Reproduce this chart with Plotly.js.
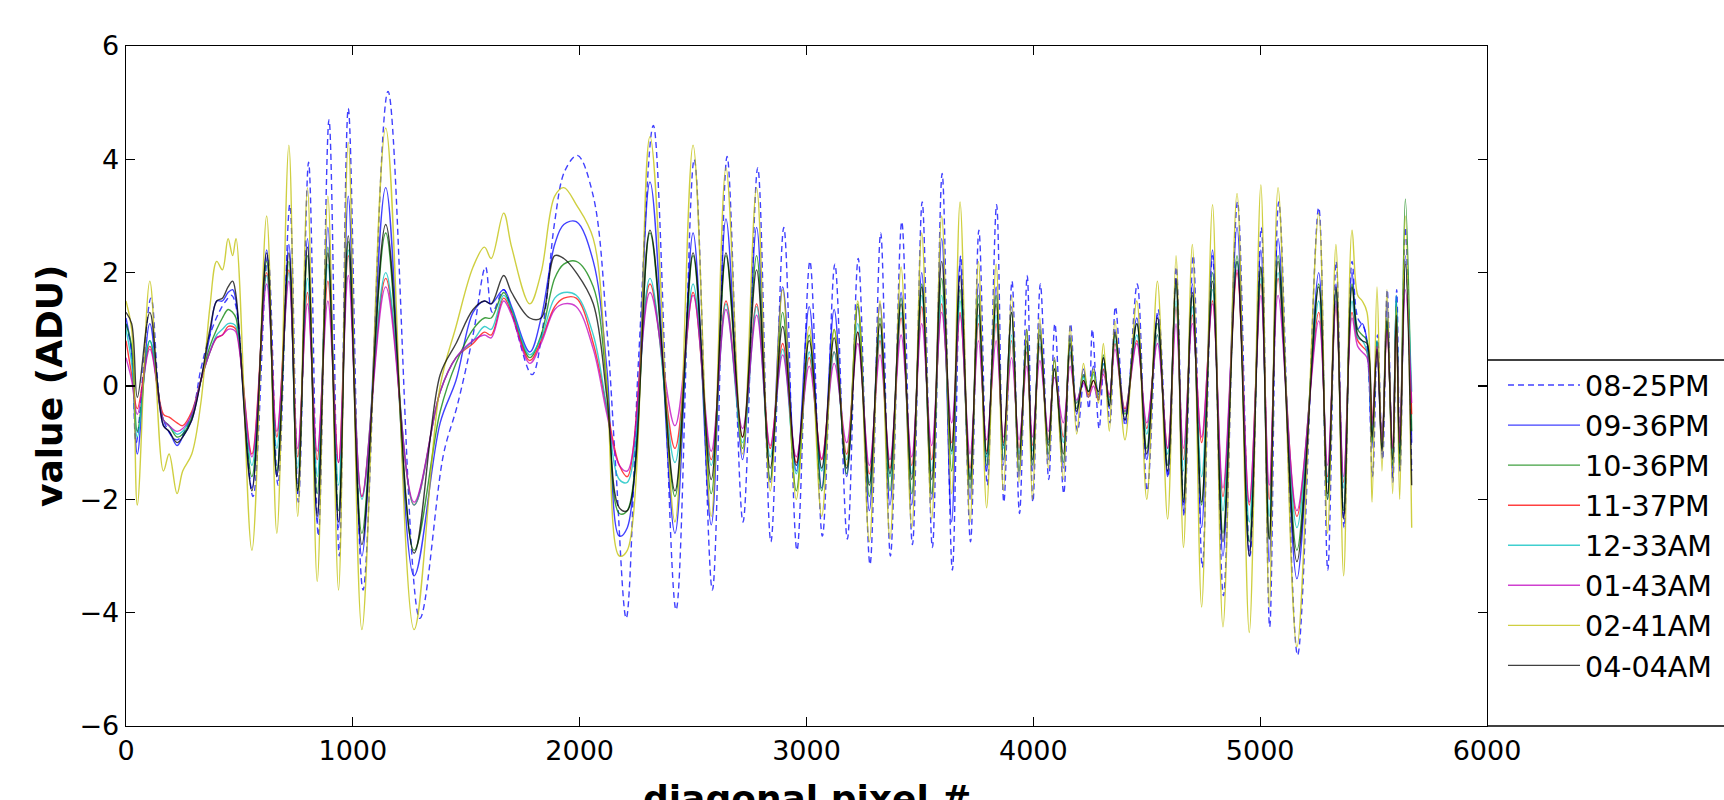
<!DOCTYPE html>
<html>
<head>
<meta charset="utf-8">
<script src="https://cdn.plot.ly/plotly-3.0.1.min.js"></script>
<style>
  html, body { margin: 0; padding: 0; background: #ffffff; }
  #chart { width: 1724px; height: 800px; }
</style>
</head>
<body>
<div id="chart"></div>
<script>
// ---- Data ----
const seriesNames = ["08-25PM", "09-36PM", "10-36PM", "11-37PM", "12-33AM", "01-43AM", "02-41AM", "04-04AM"];
const xTicks = [0, 1000, 2000, 3000, 4000, 5000, 6000];
const yTicks = [-6, -4, -2, 0, 2, 4, 6];

// diagonal pixel positions of the dashed 08-25PM curve
const pixelDash = [
  0, 25, 45, 110, 165, 225, 290, 330, 370, 410,
  440, 465, 485, 560, 625, 670, 722, 760, 805, 848,
  895, 940, 980, 1045, 1155, 1295, 1400, 1460, 1530, 1585,
  1615, 1665, 1700, 1790, 1840, 1890, 1935, 1990, 2060, 2120,
  2160, 2205, 2260, 2325, 2425, 2505, 2585, 2650, 2720, 2785,
  2843, 2900, 2958, 3015, 3070, 3125, 3180, 3228, 3280, 3327,
  3370, 3420, 3467, 3510, 3555, 3598, 3643, 3680, 3723, 3760,
  3797, 3838, 3870, 3906, 3939, 3973, 3998, 4031, 4068, 4095,
  4134, 4164, 4195, 4225, 4245, 4260, 4290, 4312, 4338, 4362,
  4405, 4458, 4502, 4550, 4595, 4630, 4665, 4705, 4745, 4790,
  4838, 4900, 4955, 5005, 5042, 5082, 5165, 5258, 5298, 5335,
  5370, 5405, 5430, 5460, 5495, 5517, 5540, 5560, 5585, 5602,
  5617, 5640, 5668
];
const v0825PM = [
  1.1, 0.6, -1.0, 1.55, -0.6, -0.95, -0.5, 0.3, 0.9, 1.3,
  1.5, 1.6, 1.4, -1.95, 2.3, -1.75, 3.2, -2.05, 3.95, -2.65,
  4.7, -3.0, 4.9, -3.6, 5.2, -4.1, -1.2, -0.35, 0.9, 2.1,
  1.3, 1.7, 1.3, 0.2, 1.1, 2.9, 3.8, 4.07, 3.35, 1.0,
  -1.5, -4.1, 0.5, 4.6, -3.95, 4.0, -3.6, 4.05, -2.4, 3.85,
  -2.75, 2.8, -2.9, 2.2, -2.65, 2.15, -2.7, 2.25, -3.15, 2.7,
  -3.0, 2.9, -2.8, 3.25, -2.85, 3.75, -3.25, 2.3, -2.75, 2.75,
  -1.75, 3.2, -2.05, 1.85, -2.25, 1.95, -2.05, 1.8, -1.65, 1.1,
  -1.9, 1.1, -0.8, 0.2, -0.4, 1.0, -0.75, 0.4, -0.65, 1.4,
  -0.7, 1.8, -1.85, 1.35, -1.6, 2.1, -2.3, 2.3, -3.2, 2.3,
  -3.7, 3.25, -3.0, 2.8, -4.25, 3.25, -4.75, 3.15, -3.25, 2.2,
  -2.5, 2.2, 1.2, 1.0, -1.6, 0.9, -1.3, 1.7, -1.7, 1.7,
  -1.5, 2.8, -1.5
];

// diagonal pixel positions shared by the solid curves
const pixel = [
  0, 25, 50, 105, 165, 190, 225, 250, 290, 330,
  370, 400, 425, 450, 470, 485, 555, 620, 665, 718,
  757, 800, 843, 890, 937, 980, 1040, 1145, 1270, 1385,
  1455, 1530, 1580, 1610, 1665, 1700, 1780, 1830, 1890, 1930,
  1985, 2060, 2120, 2175, 2210, 2310, 2420, 2500, 2580, 2645,
  2718, 2780, 2840, 2895, 2955, 3012, 3067, 3122, 3177, 3226,
  3277, 3324, 3368, 3417, 3464, 3508, 3552, 3596, 3640, 3677,
  3721, 3758, 3794, 3836, 3868, 3904, 3937, 3971, 3996, 4029,
  4066, 4093, 4132, 4162, 4191, 4221, 4243, 4265, 4287, 4309,
  4335, 4360, 4404, 4456, 4500, 4547, 4592, 4629, 4662, 4701,
  4742, 4790, 4836, 4898, 4952, 5003, 5040, 5079, 5162, 5258,
  5297, 5334, 5368, 5405, 5430, 5450, 5471, 5493, 5515, 5537,
  5559, 5584, 5600, 5615, 5640, 5668
];
const v0936PM = [
  1.2, 0.6, -1.2, 1.1, -0.7, -0.8, -1.05, -0.9, -0.6, 0.1,
  0.9, 1.5, 1.5, 1.65, 1.7, 1.5, -1.8, 2.4, -1.6, 2.5,
  -1.9, 2.6, -2.4, 2.8, -2.5, 3.35, -3.0, 3.5, -3.35, -0.65,
  0.1, 1.3, 1.5, 1.45, 1.7, 1.4, 0.6, 1.2, 2.5, 2.85,
  2.9, 2.2, 0.3, -2.65, -2.5, 3.6, -2.6, 2.7, -2.45, 2.95,
  -1.3, 2.8, -1.7, 1.75, -1.5, 1.4, -1.8, 1.35, -1.6, 1.4,
  -2.2, 1.45, -2.1, 1.65, -2.1, 2.0, -2.0, 2.6, -2.4, 2.2,
  -2.0, 1.8, -1.5, 1.75, -1.4, 1.4, -1.6, 1.0, -1.5, 1.1,
  -1.3, 0.5, -1.45, 0.9, -0.5, 0.3, -0.2, 0.35, -0.15, 0.5,
  -0.4, 1.0, -0.6, 1.2, -1.3, 1.25, -1.6, 1.9, -2.2, 1.8,
  -2.5, 2.4, -3.0, 2.8, -3.0, 2.4, -3.1, 2.6, -3.4, 2.0,
  -2.0, 1.8, -2.3, 2.0, 1.0, 1.1, 0.8, -1.1, 0.7, -1.2,
  1.5, -1.6, 1.6, -1.5, 2.3, -1.0
];
const v1036PM = [
  1.1, 0.7, -0.8, 0.8, -0.6, -0.7, -0.9, -0.85, -0.55, 0.1,
  0.7, 1.0, 1.2, 1.35, 1.3, 1.2, -1.6, 2.2, -1.5, 2.2,
  -1.85, 2.3, -1.9, 2.45, -2.2, 2.55, -2.6, 2.7, -2.9, -0.45,
  0.4, 1.0, 1.2, 1.2, 1.65, 1.35, 0.5, 0.9, 1.9, 2.15,
  2.2, 1.75, 0.0, -2.25, -2.2, 2.7, -1.95, 2.3, -1.9, 2.3,
  -1.1, 2.3, -1.65, 1.3, -1.85, 0.9, -1.85, 1.0, -1.55, 1.45,
  -1.95, 1.2, -1.85, 1.55, -1.9, 1.8, -1.9, 1.9, -1.5, 1.7,
  -1.8, 1.6, -1.4, 1.6, -1.3, 1.3, -1.5, 1.0, -1.4, 1.0,
  -1.2, 0.45, -1.35, 0.85, -0.4, 0.2, -0.1, 0.25, -0.25, 0.55,
  -0.35, 0.9, -0.5, 1.1, -1.1, 1.1, -1.4, 1.8, -2.0, 1.6,
  -2.1, 2.0, -2.6, 2.3, -2.75, 2.1, -2.7, 2.3, -2.9, 1.8,
  -2.0, 1.7, -2.2, 1.8, 1.0, 0.9, 0.8, -1.0, 0.8, -1.1,
  1.2, -1.4, 1.5, -1.4, 3.3, -0.8
];
const v1137PM = [
  0.8, 0.2, -0.4, 0.7, -0.5, -0.55, -0.65, -0.7, -0.45, 0.1,
  0.6, 0.85, 0.9, 1.05, 1.05, 1.0, -1.2, 2.0, -0.9, 2.05,
  -1.25, 1.65, -1.3, 1.85, -1.35, 2.3, -1.95, 1.9, -2.1, -0.1,
  0.5, 0.75, 0.95, 0.9, 1.55, 1.3, 0.45, 0.8, 1.4, 1.55,
  1.55, 0.75, -0.4, -1.4, -1.6, 1.8, -1.1, 1.65, -1.3, 1.5,
  -0.9, 1.45, -1.1, 0.75, -1.35, 0.5, -1.3, 0.6, -1.2, 0.95,
  -1.55, 0.8, -1.45, 1.2, -1.4, 1.4, -1.3, 1.45, -1.0, 1.3,
  -1.45, 1.1, -1.15, 1.1, -1.0, 0.8, -1.1, 0.6, -1.05, 0.7,
  -0.95, 0.3, -0.9, 0.55, -0.3, 0.1, -0.15, 0.1, -0.2, 0.3,
  -0.2, 0.75, -0.4, 0.8, -0.75, 0.9, -1.1, 1.4, -1.3, 1.25,
  -1.0, 1.5, -1.95, 2.0, -2.1, 1.8, -2.0, 1.9, -2.3, 1.3,
  -1.6, 1.4, -1.7, 1.3, 0.8, 0.7, 0.6, -0.6, 0.7, -0.95,
  1.0, -1.1, 1.2, -1.0, 2.2, -0.5
];
const v1233AM = [
  1.0, 0.4, -0.9, 0.8, -0.6, -0.7, -0.85, -0.8, -0.5, 0.1,
  0.6, 0.9, 1.0, 1.1, 1.1, 1.05, -1.4, 1.95, -1.1, 2.0,
  -1.45, 1.9, -1.6, 2.15, -1.75, 2.4, -2.0, 2.0, -2.1, -0.1,
  0.5, 0.8, 1.05, 1.0, 1.6, 1.35, 0.55, 0.85, 1.55, 1.65,
  1.6, 0.9, -0.4, -1.65, -1.7, 1.9, -1.35, 1.8, -1.4, 1.45,
  -1.0, 1.4, -1.25, 0.65, -1.55, 0.6, -1.5, 0.6, -1.3, 1.1,
  -1.7, 0.9, -1.6, 1.3, -1.55, 1.6, -1.5, 1.6, -1.2, 1.5,
  -1.6, 1.25, -1.25, 1.25, -1.1, 0.9, -1.2, 0.7, -1.15, 0.75,
  -1.0, 0.3, -1.0, 0.6, -0.3, 0.15, -0.1, 0.2, -0.2, 0.4,
  -0.25, 0.8, -0.45, 0.9, -0.85, 0.9, -1.2, 1.5, -1.5, 1.4,
  -1.6, 1.7, -2.2, 2.2, -2.4, 1.9, -2.3, 2.0, -2.5, 1.5,
  -1.7, 1.5, -1.8, 1.5, 0.85, 0.8, 0.6, -0.8, 0.8, -1.0,
  1.1, -1.2, 1.6, -1.2, 2.2, -0.1
];
const v0143AM = [
  0.5, 0.1, -0.5, 0.65, -0.6, -0.7, -0.8, -0.75, -0.5, 0.1,
  0.6, 0.85, 0.9, 1.0, 1.0, 0.95, -1.25, 1.8, -0.8, 1.85,
  -1.1, 1.45, -1.15, 1.5, -1.35, 1.95, -1.95, 1.75, -2.05, -0.1,
  0.5, 0.8, 0.9, 0.85, 1.5, 1.25, 0.4, 0.75, 1.35, 1.45,
  1.4, 0.65, -0.5, -1.4, -1.5, 1.65, -0.7, 1.6, -1.15, 1.35,
  -0.75, 1.25, -1.05, 0.55, -1.25, 0.35, -1.28, 0.4, -1.0, 0.75,
  -1.4, 0.55, -1.3, 0.9, -1.25, 1.1, -1.05, 1.3, -0.65, 1.25,
  -1.2, 0.8, -0.95, 0.8, -0.9, 0.5, -0.95, 0.35, -0.9, 0.45,
  -0.8, 0.15, -0.65, 0.35, -0.25, 0.05, -0.2, 0.0, -0.25, 0.2,
  -0.15, 0.65, -0.45, 0.75, -0.65, 0.75, -1.1, 1.1, -1.1, 1.1,
  -0.9, 1.45, -1.8, 2.05, -2.05, 1.6, -1.75, 1.6, -2.2, 1.15,
  -1.4, 1.5, -1.6, 1.2, 0.7, 0.6, 0.5, -0.7, 0.7, -1.0,
  1.0, -1.1, 1.1, -1.0, 1.7, -0.3
];
const v0241AM = [
  1.5, 1.0, -2.1, 1.85, -1.5, -1.2, -1.9, -1.5, -1.2, -0.3,
  1.4, 2.2, 2.05, 2.6, 2.3, 2.6, -2.9, 3.0, -2.6, 4.25,
  -2.3, 3.5, -3.45, 3.35, -3.6, 4.3, -4.3, 4.55, -4.3, 0.0,
  1.05, 2.1, 2.45, 2.25, 3.05, 2.45, 1.45, 2.0, 3.35, 3.5,
  3.2, 2.6, 0.0, -3.0, -2.9, 4.4, -2.4, 4.25, -2.3, 3.85,
  -1.2, 3.5, -1.85, 1.7, -2.0, 1.05, -2.3, 1.0, -1.4, 1.5,
  -2.75, 1.5, -2.7, 2.1, -2.5, 2.7, -2.35, 3.0, -1.9, 3.25,
  -2.4, 2.2, -2.15, 2.15, -1.85, 1.6, -1.7, 1.0, -2.0, 1.2,
  -1.45, 0.5, -1.65, 1.05, -0.85, 0.4, -0.2, 0.3, -0.3, 0.75,
  -0.8, 1.15, -0.95, 1.5, -2.0, 1.85, -2.35, 2.3, -2.85, 2.5,
  -3.9, 3.2, -4.25, 3.4, -4.35, 3.55, -3.9, 3.5, -4.6, 3.05,
  -2.6, 2.5, -3.35, 2.75, 1.6, 1.5, 1.3, -2.05, 1.75, -1.5,
  1.7, -1.9, 1.4, -2.0, 3.0, -2.5
];
const v0404AM = [
  1.3, 1.1, -0.2, 1.3, -0.7, -0.8, -1.0, -0.9, -0.6, 0.1,
  1.0, 1.5, 1.55, 1.75, 1.85, 1.6, -1.85, 2.35, -1.6, 2.35,
  -1.85, 2.45, -2.3, 2.35, -2.4, 2.65, -2.8, 2.85, -2.95, 0.2,
  0.75, 1.35, 1.5, 1.45, 1.95, 1.65, 1.2, 1.2, 2.3, 2.25,
  2.0, 1.45, -0.2, -2.15, -2.2, 2.75, -1.85, 2.35, -1.65, 2.35,
  -0.9, 2.05, -1.45, 1.05, -1.4, 0.8, -1.45, 0.85, -1.45, 0.95,
  -1.75, 1.1, -1.55, 1.45, -1.65, 1.75, -1.65, 2.2, -1.15, 1.95,
  -1.65, 1.45, -1.2, 1.45, -1.05, 1.3, -1.3, 0.8, -1.3, 0.9,
  -1.05, 0.3, -1.2, 0.75, -0.45, 0.1, -0.1, 0.1, -0.1, 0.5,
  -0.35, 0.95, -0.6, 1.1, -1.2, 1.2, -1.5, 1.9, -2.05, 1.65,
  -2.05, 1.85, -2.75, 2.2, -3.0, 2.1, -2.7, 2.2, -3.1, 1.75,
  -1.9, 1.75, -2.35, 1.75, 0.9, 0.8, 0.75, -0.9, 0.65, -1.15,
  1.15, -1.3, 1.25, -1.2, 2.15, -1.75
];

// ---- Styles ----
const FONT = "DejaVu Sans, Liberation Sans, sans-serif";
const solidValues = [v0936PM, v1036PM, v1137PM, v1233AM, v0143AM, v0241AM, v0404AM];
const solidColors = ["#0000ff", "#008000", "#ff0000", "#00bfbf", "#bf00bf", "#bfbf00", "#000000"];

const traces = [];
traces.push({
  type: "scatter", mode: "lines", name: seriesNames[0],
  x: pixelDash, y: v0825PM, opacity: 0.75,
  line: { color: "#0000ff", width: 1.4, dash: "6px,4px", shape: "spline", smoothing: 1 }
});
solidValues.forEach((vals, i) => {
  traces.push({
    type: "scatter", mode: "lines", name: seriesNames[i + 1],
    x: pixel, y: vals, opacity: 0.75,
    line: { color: solidColors[i], width: 1.4, shape: "spline", smoothing: 1 }
  });
});

const W = 1724, H = 800;
const mL = 126, mR = 237, mT = 46, mB = 74;
const plotW = W - mL - mR, plotH = H - mT - mB;
const legendTopPx = 360;
const legendTopPaper = (H - mB - legendTopPx) / plotH;
const rightEdgePaper = (W - mL) / plotW;
const legendLeftPx = 1503;

const layout = {
  width: W, height: H,
  margin: { l: mL, r: mR, t: mT, b: mB, pad: 0, autoexpand: false },
  paper_bgcolor: "#ffffff", plot_bgcolor: "#ffffff",
  font: { family: FONT, size: 27, color: "#000000" },
  showlegend: true,
  legend: {
    x: (legendLeftPx - mL) / plotW, xanchor: "left", y: legendTopPaper, yanchor: "top",
    bgcolor: "rgba(0,0,0,0)", borderwidth: 0,
    font: { family: FONT, size: 28.5, color: "#000000" },
    itemwidth: 72, traceorder: "normal"
  },
  xaxis: {
    range: [0, 6000], tickvals: xTicks, ticktext: xTicks.map(String),
    ticks: "inside", ticklen: 9, tickwidth: 1.3, tickcolor: "#000",
    showline: true, linecolor: "#000", linewidth: 1.3, mirror: "ticks",
    showgrid: false, zeroline: false,
    tickfont: { family: FONT, size: 27, color: "#000" }
  },
  yaxis: {
    range: [-6, 6], tickvals: yTicks, ticktext: yTicks.map(v => v < 0 ? "\u2212" + Math.abs(v) : String(v)),
    ticks: "inside", ticklen: 9, tickwidth: 1.3, tickcolor: "#000",
    showline: true, linecolor: "#000", linewidth: 1.3, mirror: "ticks",
    showgrid: false, zeroline: false,
    tickfont: { family: FONT, size: 27, color: "#000" }
  },
  shapes: [
    { type: "line", xref: "paper", yref: "paper", x0: 1, x1: rightEdgePaper, y0: legendTopPaper, y1: legendTopPaper,
      line: { color: "#000", width: 1.3 } },
    { type: "line", xref: "paper", yref: "paper", x0: 1, x1: rightEdgePaper, y0: 0, y1: 0,
      line: { color: "#000", width: 1.3 } }
  ],
  annotations: [
    { text: "value (ADU)", xref: "paper", yref: "paper", x: (49 - mL) / plotW, y: 0.5,
      xanchor: "center", yanchor: "middle", textangle: -90, showarrow: false,
      font: { family: FONT, size: 36, color: "#000", weight: "bold" } },
    { text: "diagonal pixel #", xref: "paper", yref: "paper", x: 0.5, y: (H - mB - 776) / plotH,
      xanchor: "center", yanchor: "top", showarrow: false,
      font: { family: FONT, size: 36, color: "#000", weight: "bold" } }
  ]
};

Plotly.newPlot("chart", traces, layout, { displayModeBar: false, staticPlot: true });
</script>
</body>
</html>
